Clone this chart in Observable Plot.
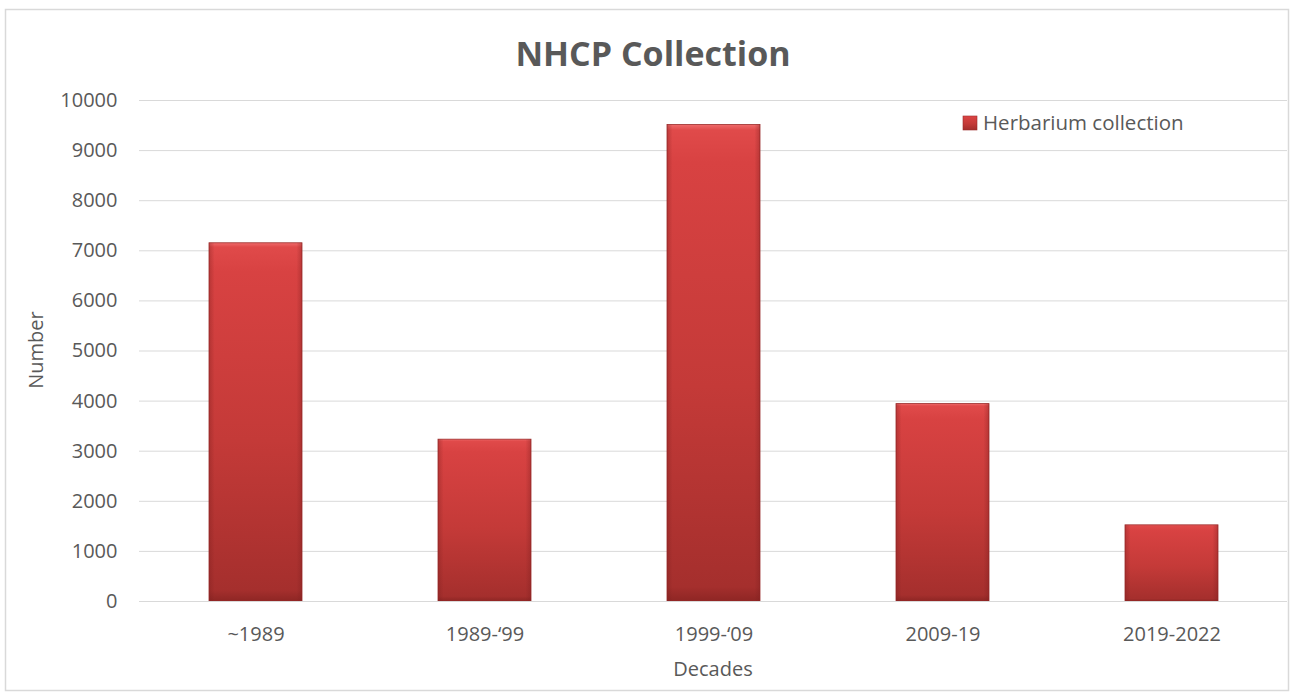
<!DOCTYPE html>
<html>
<head>
<meta charset="utf-8">
<script src="https://cdn.jsdelivr.net/npm/d3@7"></script>
<script src="https://cdn.jsdelivr.net/npm/@observablehq/plot@0.6"></script>
<style>
  html, body { margin: 0; padding: 0; background: #fff; }
  #chart { width: 1293px; height: 696px; }
</style>
</head>
<body>
<div id="chart"></div>
<script>
const categories = ["~1989", "1989-\u201899", "1999-\u201809", "2009-19", "2019-2022"];
const values = [7150, 3230, 9510, 3940, 1520];
const yTicks = [0, 1000, 2000, 3000, 4000, 5000, 6000, 7000, 8000, 9000, 10000];
const seriesName = "Herbarium collection";
const title = "NHCP Collection";
const xTitle = "Decades";
const yTitle = "Number";

const data = categories.map((c, i) => ({decade: c, value: values[i]}));

const font = "'Open Sans', Lato, sans-serif";
const textColor = "#595959";

const plot = Plot.plot({
  width: 1293,
  height: 696,
  marginLeft: 139,
  marginRight: 6,
  marginTop: 100,
  marginBottom: 95,
  style: {fontFamily: font, fontSize: "20px", color: textColor, background: "#fff", overflow: "visible"},
  x: {domain: categories, paddingInner: 0.595, paddingOuter: 0.2975, label: null},
  y: {domain: [0, 10000], label: null},
  marks: [
    Plot.gridY(yTicks, {stroke: "#d9d9d9", strokeOpacity: 1, strokeWidth: 1}),
    Plot.barY(data, {x: "decade", y: "value", fill: "url(#barGrad)", stroke: "#9a2a28", strokeWidth: 0.8}),
    Plot.barY(data, {x: "decade", y: "value", fill: "url(#barSide)", stroke: "none"}),
    Plot.ruleY([0], {stroke: "#d9d9d9", strokeWidth: 1.2}),
    Plot.axisY({ticks: yTicks, tickSize: 0, tickPadding: 22, label: null, tickFormat: d => String(d), fontSize: 20}),
    Plot.axisX({tickSize: 0, tickPadding: 25, label: null, fontSize: 20})
  ]
});

const svg = d3.select(plot);
const defs = svg.insert("defs", ":first-child");
const g1 = defs.append("linearGradient").attr("id", "barGrad").attr("x1", 0).attr("y1", 0).attr("x2", 0).attr("y2", 1);
g1.append("stop").attr("offset", "0%").attr("stop-color", "#ef6b6b");
g1.append("stop").attr("offset", "1.2%").attr("stop-color", "#e04a4a");
g1.append("stop").attr("offset", "8%").attr("stop-color", "#d84242");
g1.append("stop").attr("offset", "55%").attr("stop-color", "#c43a38");
g1.append("stop").attr("offset", "97%").attr("stop-color", "#a52f2d");
g1.append("stop").attr("offset", "100%").attr("stop-color", "#8e2624");
const g2 = defs.append("linearGradient").attr("id", "barSide").attr("x1", 0).attr("y1", 0).attr("x2", 1).attr("y2", 0);
g2.append("stop").attr("offset", "0%").attr("stop-color", "#7a1e1e").attr("stop-opacity", 0.35);
g2.append("stop").attr("offset", "6%").attr("stop-color", "#7a1e1e").attr("stop-opacity", 0);
g2.append("stop").attr("offset", "94%").attr("stop-color", "#7a1e1e").attr("stop-opacity", 0);
g2.append("stop").attr("offset", "100%").attr("stop-color", "#7a1e1e").attr("stop-opacity", 0.35);

svg.selectAll("text").attr("fill", textColor);

// outer chart border
svg.insert("rect", "defs + *").attr("x", 5.5).attr("y", 9.5).attr("width", 1283).attr("height", 681)
  .attr("fill", "none").attr("stroke", "#d9d9d9").attr("stroke-width", 1.5);

// title
svg.append("text").attr("x", 653).attr("y", 66).attr("text-anchor", "middle")
  .attr("font-family", font).attr("font-size", 34).attr("font-weight", "bold").attr("fill", textColor)
  .text(title);

// axis titles
svg.append("text").attr("transform", "translate(43,350) rotate(-90)").attr("text-anchor", "middle")
  .attr("font-family", font).attr("font-size", 20).attr("fill", textColor).text(yTitle);
svg.append("text").attr("x", 713).attr("y", 676).attr("text-anchor", "middle")
  .attr("font-family", font).attr("font-size", 20).attr("fill", textColor).text(xTitle);

// legend
svg.append("rect").attr("x", 963).attr("y", 116).attr("width", 14).attr("height", 14)
  .attr("fill", "url(#barGrad)").attr("stroke", "#9a2a28").attr("stroke-width", 0.6);
svg.append("text").attr("x", 983).attr("y", 130).attr("text-anchor", "start")
  .attr("font-family", font).attr("font-size", 20.5).attr("fill", textColor).text(seriesName);

document.getElementById("chart").appendChild(plot);
</script>
</body>
</html>
